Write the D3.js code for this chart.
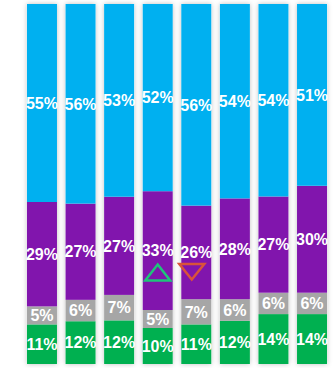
<!DOCTYPE html>
<html>
<head>
<meta charset="utf-8">
<script src="https://cdnjs.cloudflare.com/ajax/libs/d3/7.8.5/d3.min.js"></script>
<style>
  body { margin: 0; background: #fff; }
  svg { display: block; }
</style>
</head>
<body>
<script>
(function(){

  //chart data
  var columns = ["c1", "c2", "c3", "c4", "c5", "c6", "c7", "c8"];
  var greenVals = [11, 12, 12, 10, 11, 12, 14, 14]; //bottom segment
  var grayVals = [5, 6, 7, 5, 7, 6, 6, 6];
  var purpleVals = [29, 27, 27, 33, 26, 28, 27, 30];
  var blueVals = [55, 56, 53, 52, 56, 54, 54, 51]; //top segment
  var seriesNames = ["green", "gray", "purple", "blue"];
  var seriesColors = ["#00b050", "#a6a6a6", "#8115ad", "#00b0f0"];
  var markers = [{col: "c4", dir: "up", color: "#1ec47a"}, {col: "c5", dir: "down", color: "#d9533a"}];

  var width = 333, height = 368;
  var margin = {top: 4, bottom: 4};

  var svg = d3.select("body")
    .append("svg")
    .attr("width", width)
    .attr("height", height);

  //soft shadow round the bars
  var filter = svg.append("defs").append("filter")
    .attr("id", "shadow")
    .attr("x", "-30%").attr("y", "-5%")
    .attr("width", "160%").attr("height", "110%");
  filter.append("feDropShadow")
    .attr("dx", 0).attr("dy", 0)
    .attr("stdDeviation", 2.5)
    .attr("flood-color", "#000")
    .attr("flood-opacity", 0.25);

  //build rows for the stack layout
  var table = columns.map(function(c, i){
    return {col: c, green: greenVals[i], gray: grayVals[i], purple: purpleVals[i], blue: blueVals[i]};
  });

  //each bar fills the full height (normalized to 100%)
  var stacked = d3.stack()
    .keys(seriesNames)
    .offset(d3.stackOffsetExpand)(table);

  var x = d3.scaleBand()
    .domain(columns)
    .range([23.1, 330.9])
    .paddingInner(0.222)
    .paddingOuter(0.1);

  var y = d3.scaleLinear()
    .domain([0, 1])
    .range([height - margin.bottom, margin.top]);

  //shadow layer
  svg.append("g").selectAll("rect")
    .data(columns)
    .enter()
    .append("rect")
    .attr("x", function(d){ return x(d); })
    .attr("y", y(1))
    .attr("width", x.bandwidth())
    .attr("height", y(0) - y(1))
    .attr("fill", "#fff")
    .attr("filter", "url(#shadow)");

  var layers = svg.append("g").selectAll("g")
    .data(stacked)
    .enter()
    .append("g")
    .attr("fill", function(d, i){ return seriesColors[i]; });

  layers.selectAll("rect")
    .data(function(d){ return d; })
    .enter()
    .append("rect")
    .attr("x", function(d){ return x(d.data.col); })
    .attr("y", function(d){ return y(d[1]); })
    .attr("width", x.bandwidth())
    .attr("height", function(d){ return y(d[0]) - y(d[1]); });

  //value labels
  stacked.forEach(function(s){
    svg.append("g").selectAll("text")
      .data(s)
      .enter()
      .append("text")
      .attr("x", function(d){ return x(d.data.col) + x.bandwidth() / 2; })
      .attr("y", function(d){ return (y(d[0]) + y(d[1])) / 2; })
      .attr("dy", "0.36em")
      .attr("text-anchor", "middle")
      .style("font-family", "'Liberation Sans', Arial, sans-serif")
      .style("font-size", "16px")
      .style("font-weight", "bold")
      .style("fill", "#fff")
      .text(function(d){ return d.data[s.key] + "%"; });
  });

  //change markers (outlined triangles)
  svg.append("g").selectAll("path")
    .data(markers)
    .enter()
    .append("path")
    .attr("d", function(d){
      var cx = x(d.col) + x.bandwidth() / 2;
      if (d.dir == "up"){
        return "M" + (cx - 12.5) + ",280.5L" + cx + ",264.5L" + (cx + 12.5) + ",280.5Z";
      } else {
        cx = cx - 4.5;
        return "M" + (cx - 12.5) + ",264L" + (cx + 12.5) + ",264L" + cx + ",279.5Z";
      }
    })
    .attr("fill", "none")
    .attr("stroke", function(d){ return d.color; })
    .attr("stroke-width", 2.5)
    .attr("stroke-linejoin", "miter");
})();
</script>
</body>
</html>
